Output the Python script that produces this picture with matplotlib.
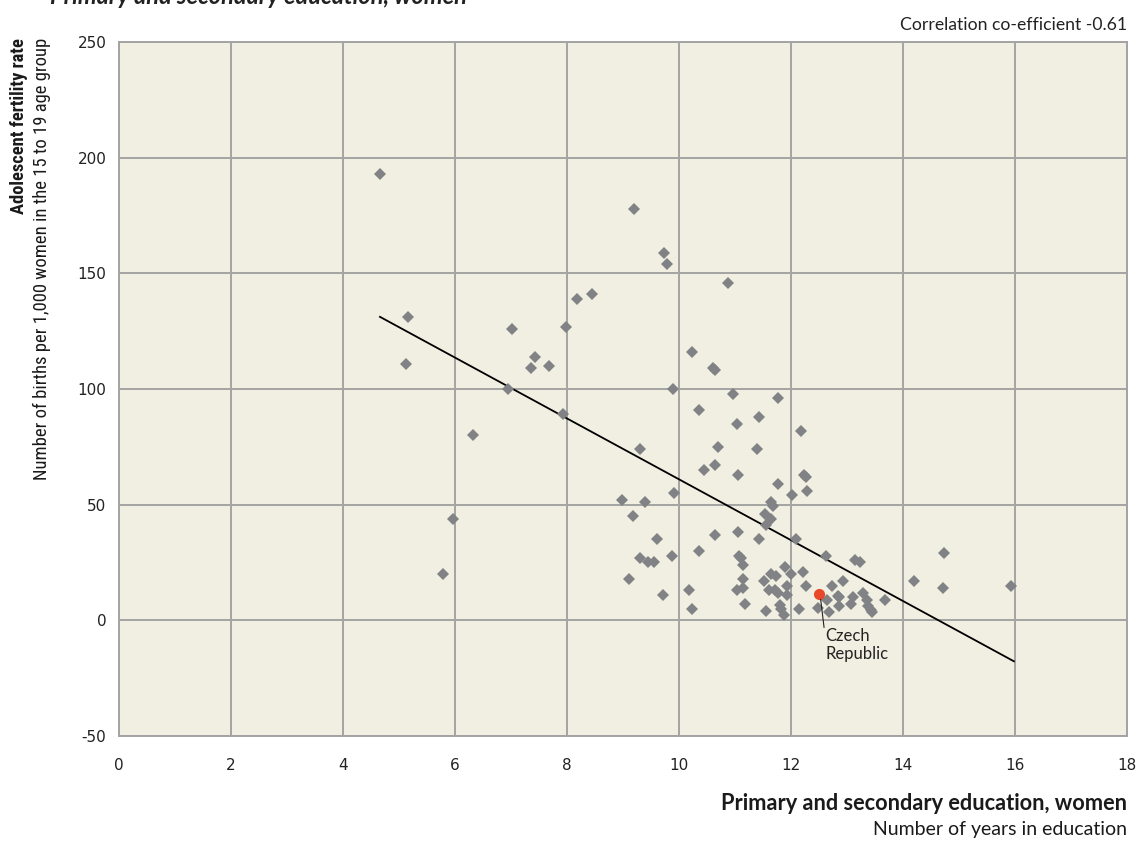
import matplotlib
matplotlib.use("Agg")
import matplotlib.pyplot as plt
from matplotlib import font_manager

plt.rcParams["axes.unicode_minus"] = False

# ---- data ----
edu_years = [4.66, 5.16, 5.13, 5.79, 5.97, 6.32, 6.94, 7.01, 7.35, 7.43, 7.68, 7.92, 7.99,
             8.17, 8.45, 9.19, 9.74, 9.79, 10.88, 10.24, 10.61, 10.65, 9.89, 10.97, 11.76,
             10.36, 11.42, 11.04, 12.17, 9.31, 10.69, 11.39, 10.65, 10.45, 11.05, 12.24,
             12.26, 11.77, 12.29, 12.02, 9.91, 8.98, 9.40, 11.65, 11.68, 11.54, 11.65,
             11.55, 9.17, 9.61, 10.64, 11.05, 11.42, 12.09, 12.63, 10.36, 9.88, 9.30, 9.44,
             9.55, 11.08, 11.10, 11.15, 11.89, 11.64, 11.74, 12.00, 12.22, 11.52, 11.14,
             9.11, 10.18, 11.03, 11.15, 11.60, 11.71, 11.76, 11.92, 11.93, 12.27, 9.72,
             10.23, 11.17, 11.55, 11.80, 11.83, 11.88, 12.15, 12.64, 12.49, 12.67, 12.74,
             12.84, 13.14, 13.23, 14.74, 14.20, 14.72, 15.92, 12.93, 13.29, 12.86, 13.11,
             13.35, 13.67, 12.86, 13.08, 13.38, 13.43, 13.45]
fertility = [193, 131, 111, 20, 44, 80, 100, 126, 109, 114, 110, 89, 127,
             139, 141, 178, 159, 154, 146, 116, 109, 108, 100, 98, 96,
             91, 88, 85, 82, 74, 75, 74, 67, 65, 63, 63,
             62, 59, 56, 54, 55, 52, 51, 51, 49.5, 46, 44,
             41, 45, 35, 37, 38, 35, 35, 28, 30, 28, 27, 25,
             25, 28, 27, 24, 23, 20, 19, 20, 21, 17, 18,
             18, 13, 13, 14, 13, 13, 12, 15, 11, 15, 11,
             5, 7, 4, 6.5, 4.8, 2.2, 5, 9, 5.5, 3.6, 15,
             10.5, 26, 25, 29, 17, 14, 15, 17, 12, 10, 10,
             9, 9, 6, 7, 6, 4.5, 3.6]
highlight_name = "Czech\nRepublic"
highlight_x = [12.5]
highlight_y = [11.5]
trend_x = [4.66, 15.98]
trend_y = [131.2, -17.7]
x_ticks = [0, 2, 4, 6, 8, 10, 12, 14, 16, 18]
y_ticks = [-50, 0, 50, 100, 150, 200, 250]

available = {f.name for f in font_manager.fontManager.ttflist}
def pick(*names):
    for n in names:
        if n in available:
            return n
    return "DejaVu Sans"
cond_font = pick("Liberation Sans Narrow", "Roboto Condensed", "Open Sans", "Lato")
text_font = pick("Lato", "Open Sans", "Roboto")
tick_font = "DejaVu Sans"

W, H = 1137, 844
fig = plt.figure(figsize=(W / 100, H / 100), dpi=100)
ax = fig.add_axes([119 / W, 1 - 736 / H, (1127 - 119) / W, (736 - 42) / H])

bg = "#f1efe1"
grid_c = "#a3a3a3"
ink = "#1a1a1a"
ax.set_facecolor(bg)
ax.set_xlim(0, 18)
ax.set_ylim(-50, 250)
ax.set_xticks(x_ticks)
ax.set_yticks(y_ticks)
ax.grid(True, color=grid_c, linewidth=1.4)
ax.set_axisbelow(True)
for s in ax.spines.values():
    s.set_color(grid_c)
    s.set_linewidth(1.4)
ax.tick_params(length=0, labelsize=11, colors="#222222", pad=9)
ax.tick_params(axis="x", pad=16)
for lab in ax.get_xticklabels() + ax.get_yticklabels():
    lab.set_family(tick_font)

ax.plot(trend_x, trend_y, color="black", linewidth=1.3, zorder=3)
ax.plot(edu_years, fertility, linestyle="none", marker="D", markersize=5.8,
        color="#808285", markeredgewidth=0, zorder=4)
ax.plot(highlight_x, highlight_y, linestyle="none", marker="o", markersize=8,
        color="#e8472b", markeredgewidth=0, zorder=5)
ax.plot([highlight_x[0] + 0.03, highlight_x[0] + 0.09], [highlight_y[0] - 2.5, highlight_y[0] - 14.5],
        color="#222222", linewidth=0.8, zorder=5)
ax.text(highlight_x[0] + 0.12, highlight_y[0] - 15, highlight_name, fontsize=12,
        family=text_font, color="#222222", va="top", ha="left", linespacing=1.15, zorder=6)

# axis titles
fig.text(1127 / W, 1 - 803 / H, "Primary and secondary education, women", ha="right",
         va="center", fontsize=15.7, fontweight="bold", family=text_font, color=ink)
fig.text(1127 / W, 1 - 830 / H, "Number of years in education", ha="right",
         va="center", fontsize=14, family=text_font, color=ink)
fig.text(19 / W, 1 - 38 / H, "Adolescent fertility rate", rotation=90, ha="center",
         va="top", fontsize=13.3, fontweight="bold", family=cond_font, color=ink)
fig.text(42 / W, 1 - 38 / H, "Number of births per 1,000 women in the 15 to 19 age group",
         rotation=90, ha="center", va="top", fontsize=13.4, family=cond_font, color=ink)
fig.text(1127 / W, 1 - 25 / H, "Correlation co-efficient -0.61", ha="right", va="center",
         fontsize=12.7, family=text_font, color="#222222")
# headline, cropped at the top edge as in the reference
fig.text(50 / W, 1 - 4 / H, "Primary and secondary education, women", ha="left",
         va="baseline", fontsize=17, fontweight="bold", fontstyle="italic",
         family=text_font, color="#222222")

fig.savefig("out.png", dpi=100, facecolor="white")
